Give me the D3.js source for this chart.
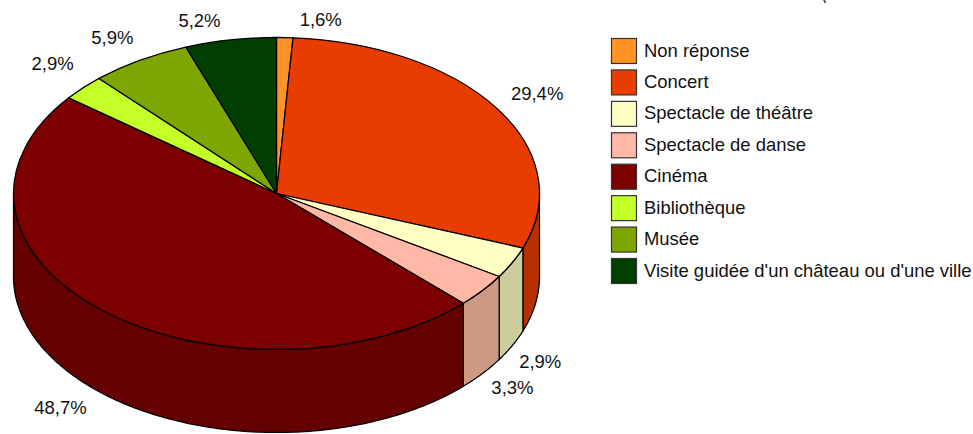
<!DOCTYPE html>
<html><head><meta charset="utf-8">
<script src="https://cdn.jsdelivr.net/npm/d3@7"></script>
<style>html,body{margin:0;padding:0;background:#fff}svg{display:block}text{font-family:"Liberation Sans",Arial,sans-serif;fill:#111}</style>
</head><body><svg id="c" width="973" height="434"></svg>
<script>
const categories=["Non réponse","Concert","Spectacle de théâtre","Spectacle de danse","Cinéma","Bibliothèque","Musée","Visite guidée d'un château ou d'une ville"];
const valueLabels=["1,6%","29,4%","2,9%","3,3%","48,7%","2,9%","5,9%","5,2%"];
// slice sizes as they appear in the picture (the tilted pie foreshortens the printed percentages)
const drawnShares=[1.0,29.7,3.25,3.5,48.1,2.7,6.2,5.6];
const topColors=["#ff9326","#e83c00","#ffffc4","#ffb8a6","#7d0000","#c4ff2a","#7ea600","#003f00"];
const sideColors=["#c47020","#b83000","#cccc9d","#cc9985","#640000","#9dcc22","#658500","#003200"];
const labelOffsets=[[36,-18.5],[40,-15.5],[28,15.5],[30,13.5],[-42.5,13.5],[-30.5,-24.5],[-27.5,-22.5],[-31,-19.5]];

const cx=276.5,cy=193.5,rx=263,ry=156,depth=83;
const svg=d3.select("#c");
const arcs=d3.pie().sort(null).value(d=>d)(drawnShares);
const px=a=>cx+rx*Math.sin(a), py=a=>cy-ry*Math.cos(a);
const line=d3.line();
const PI=Math.PI;
const edge=1.25;

// side walls (only the front half of the rim is visible)
arcs.forEach((d,i)=>{
  const a0=Math.max(d.startAngle,PI/2), a1=Math.min(d.endAngle,3*PI/2);
  if(a1<=a0) return;
  const n=Math.max(4,Math.ceil((a1-a0)*60));
  const as=d3.range(n+1).map(k=>a0+(a1-a0)*k/n);
  const pts=as.map(a=>[px(a),py(a)]).concat(as.slice().reverse().map(a=>[px(a),py(a)+depth]));
  svg.append("path").attr("d",line(pts)+"Z").attr("fill",sideColors[i]).attr("stroke","#000").attr("stroke-width",edge).attr("stroke-linejoin","round");
});

// top faces
const arcGen=d3.arc().innerRadius(0).outerRadius(rx);
svg.append("g").attr("transform",`translate(${cx},${cy}) scale(1,${ry/rx})`)
  .selectAll("path").data(arcs).join("path")
  .attr("d",arcGen).attr("fill",(d,i)=>topColors[i])
  .attr("stroke","#000").attr("stroke-width",edge).attr("vector-effect","non-scaling-stroke").attr("stroke-linejoin","round");

// value labels
svg.append("g").selectAll("text").data(arcs).join("text")
  .attr("x",(d,i)=>{const m=(d.startAngle+d.endAngle)/2;return px(m)+labelOffsets[i][0];})
  .attr("y",(d,i)=>{const m=(d.startAngle+d.endAngle)/2;return py(m)+(Math.cos(m)<0?depth:0)+labelOffsets[i][1];})
  .attr("text-anchor","middle").attr("dominant-baseline","central").attr("font-size",18.5)
  .text((d,i)=>valueLabels[i]);

// legend
const ly=d3.scalePoint().domain(categories).range([51,271]);
const lg=svg.append("g").selectAll("g").data(categories).join("g").attr("transform",d=>`translate(611,${ly(d)})`);
lg.append("rect").attr("x",0.5).attr("y",-12.5).attr("width",25).attr("height",25).attr("fill",(d,i)=>topColors[i]).attr("stroke","#333").attr("stroke-width",1.2);
lg.append("text").attr("x",33).attr("y",-1).attr("dominant-baseline","central").attr("font-size",18.45).text(d=>d);

// sliver of the cropped title left at the top edge of the picture (not legible as text)
svg.append("path").attr("d","M823.5,-1 L825.5,3").attr("fill","none").attr("stroke","#2c3e50").attr("stroke-width",1.6);
</script></body></html>
